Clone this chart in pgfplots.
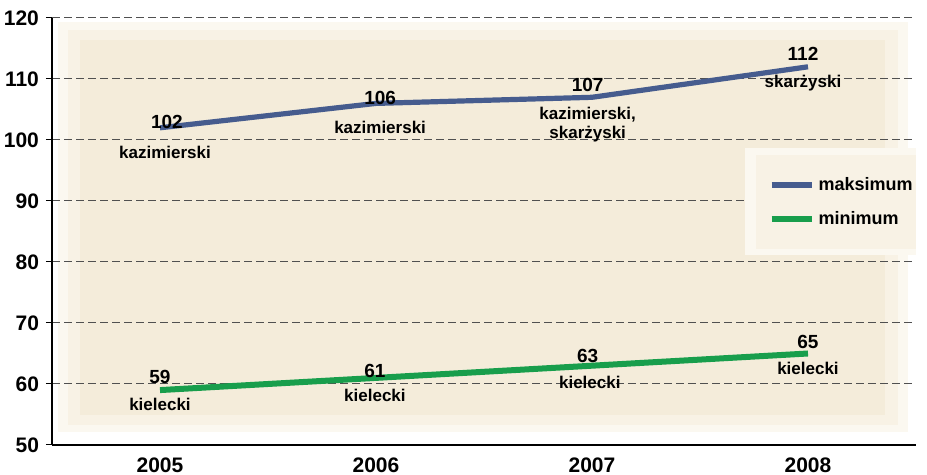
\documentclass[border=0pt]{standalone}
\usepackage{fontspec}
\setmainfont{Liberation Sans}
\usepackage{pgfplots}
\pgfplotsset{compat=1.18}

\definecolor{maxblue}{RGB}{70,92,142}
\definecolor{mingreen}{RGB}{24,158,76}
\definecolor{beigeA}{RGB}{251,248,240}
\definecolor{beigeB}{RGB}{248,242,229}
\definecolor{beigeC}{RGB}{244,236,218}
\definecolor{gridgray}{RGB}{80,80,80}

\begin{document}
\begin{tikzpicture}
\begin{axis}[
  set layers=standard,
  scale only axis,
  width=432pt, height=213.5pt,
  xmin=0.5, xmax=4.5,
  ymin=50, ymax=120,
  xtick={1,2,3,4},
  xticklabels={2005,2006,2007,2008},
  minor xtick={0.5,1.5,2.5,3.5,4.5},
  ytick={50,60,...,120},
  axis x line=bottom, axis y line=left,
  axis line style={-, black, line width=0.6pt},
  tick align=outside,
  xtick pos=bottom, ytick pos=left,
  xtick style={draw=none},
  minor x tick style={black, line width=0.5pt},
  ytick style={black, line width=0.5pt},
  major tick length=3pt, minor tick length=3pt,
  ymajorgrids,
  grid style={gridgray, line width=0.5pt, dash pattern=on 4pt off 2pt},
  ticklabel style={font=\bfseries\fontsize{10.5}{12}\selectfont},
  /pgf/number format/assume math mode=true,
  legend style={at={(0.915,0.569)}, anchor=center, draw=none, fill=none,
    font=\bfseries\fontsize{9}{11}\selectfont, row sep=5pt,
    legend cell align=left},
  legend image code/.code={\draw[#1] (0pt,0pt) -- (20pt,0pt);},
]
% soft beige background
\begin{pgfonlayer}{axis background}
\fill[beigeA] (axis cs:0.528,52.1) rectangle (axis cs:4.463,119.3);
\fill[beigeB] (axis cs:0.574,53.3) rectangle (axis cs:4.417,118.0);
\fill[beigeC] (axis cs:0.630,54.9) rectangle (axis cs:4.356,116.4);
\end{pgfonlayer}
% legend box
\fill[beigeA] (rel axis cs:0.802,0.445) rectangle (rel axis cs:1.012,0.696);
\fill[beigeB] (rel axis cs:0.815,0.46) rectangle (rel axis cs:1.0,0.68);

\addplot[maxblue, line width=2.6pt] coordinates {
(1,102) (2,106) (3,107) (4,112)
};
\addlegendentry{maksimum}
\addplot[mingreen, line width=3pt] coordinates {
(1,59) (2,61) (3,63) (4,65)
};
\addlegendentry{minimum}

% value labels
\addplot[forget plot, draw=none, nodes near coords, point meta=explicit symbolic,
  nodes near coords style={anchor=center, text=black, inner sep=0pt,
  font=\bfseries\fontsize{9.5}{11}\selectfont}]
coordinates {
(1.032,102.95) [102]
(2.019,106.9) [106]
(2.98,109.0) [107]
(3.977,114.1) [112]
(1.0,61.1) [59]
(1.995,62.1) [61]
(2.98,64.6) [63]
(4.0,66.9) [65]
};
% district names
\addplot[forget plot, draw=none, nodes near coords, point meta=explicit symbolic,
  nodes near coords style={anchor=center, text=black, inner sep=0pt, align=center,
  font=\bfseries\fontsize{8.5}{9.5}\selectfont}]
coordinates {
(1.023,98.0) [kazimierski]
(2.019,102.1) [kazimierski]
(2.98,102.6) [{kazimierski,\\skarżyski}]
(3.977,109.3) [skarżyski]
(1.0,56.6) [kielecki]
(1.995,58.2) [kielecki]
(2.99,60.2) [kielecki]
(4.0,62.5) [kielecki]
};
\end{axis}
\pgfresetboundingbox
\path[use as bounding box] (-26pt,-15pt) rectangle (437.5pt,222.5pt);
\end{tikzpicture}
\end{document}
